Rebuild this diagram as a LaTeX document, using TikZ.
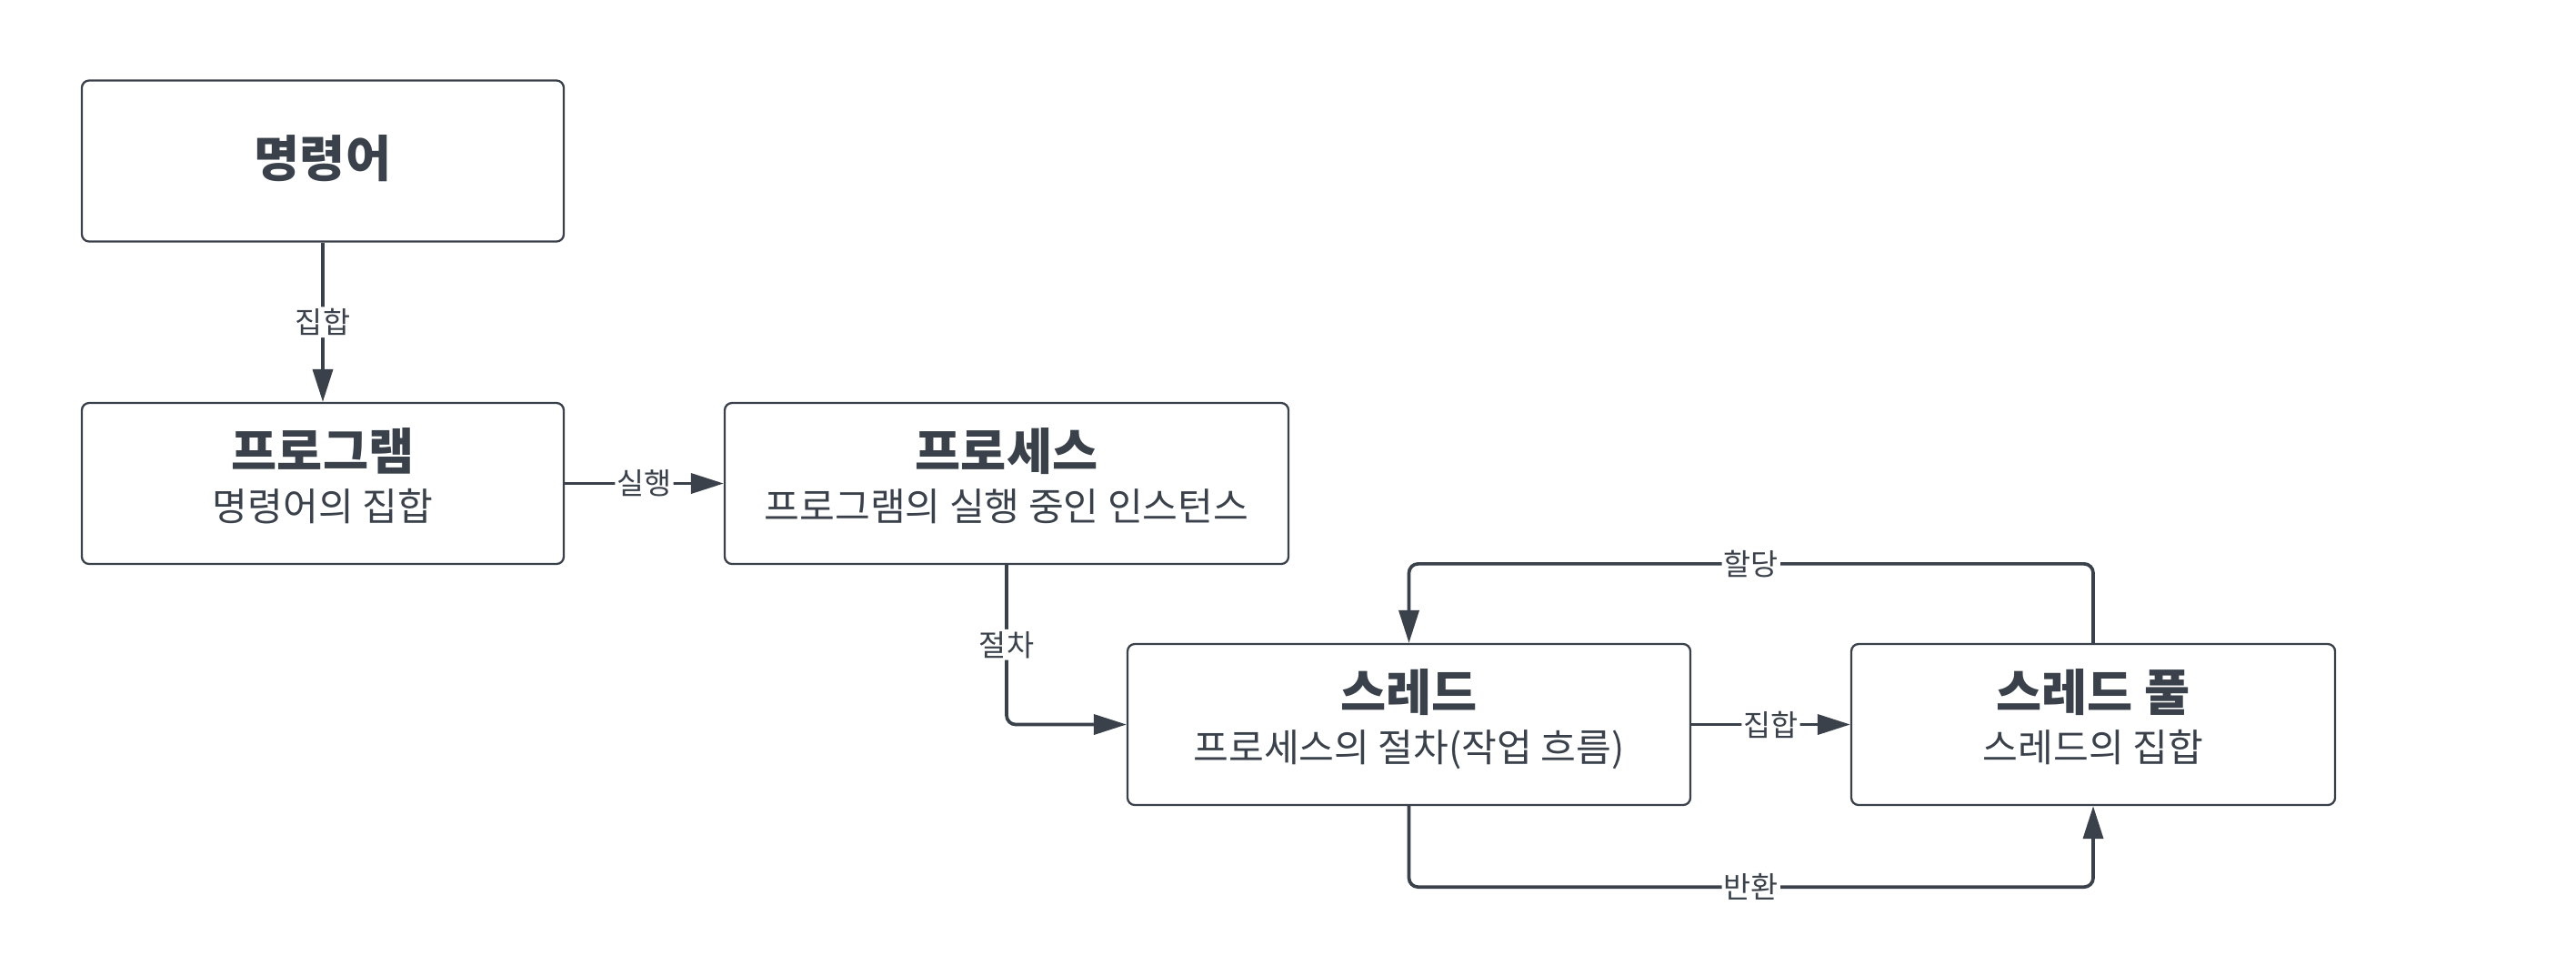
\documentclass[tikz,border=0pt]{standalone}
\usepackage{fontspec}
\setmainfont{Noto Sans CJK KR}
\usepackage{xcolor}
\usepackage{tikz}
\usetikzlibrary{arrows.meta}

\definecolor{inkgray}{HTML}{3A414A}

\newcommand{\boxtitle}[1]{{\fontsize{15.5pt}{16pt}\selectfont\bfseries #1}}
\newcommand{\boxsub}[1]{#1\rule[-5.5pt]{0pt}{5.5pt}}

\tikzset{
    box/.style={draw=inkgray, line width=0.65pt, rounded corners=0.08cm,
        minimum height=1.77cm, align=center, text=inkgray,
        font=\fontsize{12pt}{16pt}\selectfont},
    conn/.style={draw=inkgray, line width=1.05pt, rounded corners=0.1cm,
        -{Triangle[length=0.36cm, width=0.22cm]}},
    lbl/.style={fill=white, inner sep=0.6pt, text=inkgray,
        font=\fontsize{9.3pt}{10pt}\selectfont}
}

\begin{document}
\begin{tikzpicture}
        \useasboundingbox (0,0) rectangle (28.33,-10.61);

        % Boxes
        \node[box, minimum width=5.30cm] (cmd) at (3.55,-1.77) {\boxtitle{명령어}\rule[-3pt]{0pt}{3pt}};
        \node[box, minimum width=5.30cm] (prog) at (3.55,-5.315) {\boxtitle{프로그램}\\ \boxsub{명령어의 집합}};
        \node[box, minimum width=6.20cm] (proc) at (11.07,-5.315) {\boxtitle{프로세스}\\ \boxsub{프로그램의 실행 중인 인스턴스}};
        \node[box, minimum width=6.19cm] (thread) at (15.495,-7.965) {\boxtitle{스레드}\\ \boxsub{프로세스의 절차(작업 흐름)}};
        \node[box, minimum width=5.32cm] (pool) at (23.02,-7.965) {\boxtitle{스레드 풀}\\ \boxsub{스레드의 집합}};

        % Connectors
        \draw[conn] (cmd) -- node[lbl] {집합} (prog);
        \draw[conn] (prog) -- node[lbl] {실행} (proc);
        \draw[conn] (proc.south) |- node[lbl, pos=0.25] {절차} (thread.west);
        \draw[conn] (thread) -- node[lbl] {집합} (pool);

        % Loop between thread and pool
        \draw[conn] (pool.north) |- ([yshift=0.87cm]thread.north) node[lbl, pos=0.75] {할당} -- (thread.north);
        \draw[conn] (thread.south) |- ([yshift=-0.89cm]pool.south) node[lbl, pos=0.75] {반환} -- (pool.south);
    \end{tikzpicture}
\end{document}
